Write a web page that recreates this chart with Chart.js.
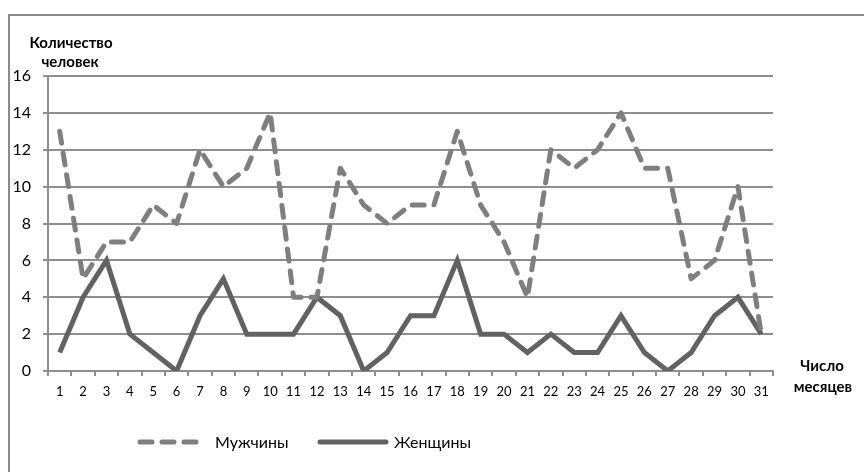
<!DOCTYPE html>
<html>
<head>
<meta charset="utf-8">
<script src="https://cdn.jsdelivr.net/npm/chart.js@4.4.1/dist/chart.umd.min.js"></script>
<style>
  html, body { margin: 0; padding: 0; background: #ffffff; }
  #wrap { width: 864px; height: 472px; }
</style>
</head>
<body>
<div id="wrap"><canvas id="c" width="864" height="472"></canvas></div>
<script>
// Months 1..31
const months = Array.from({ length: 31 }, (_, i) => String(i + 1));

// Number of people per month
const men = [13, 5, 7, 7, 9, 8, 12, 10, 11, 14, 4, 4, 11, 9, 8, 9, 9, 13, 9, 7, 4, 12, 11, 12, 14, 11, 11, 5, 6, 10, 2];
const women = [1, 4, 6, 2, 1, 0, 3, 5, 2, 2, 2, 4, 3, 0, 1, 3, 3, 6, 2, 2, 1, 2, 1, 1, 3, 1, 0, 1, 3, 4, 2];

const seriesNames = ['Мужчины', 'Женщины'];
const yTitle = ['Количество', 'человек'];
const xTitle = ['Число', 'месяцев'];

const FONT = 'Lato, "Open Sans", "DejaVu Sans", sans-serif';
const MEN_COLOR = '#7f7f7f';
const WOMEN_COLOR = '#626262';
const GRID_COLOR = '#8e8e8e';

// Frame, axis titles and legend drawn around the plot
const decorations = {
  id: 'decorations',
  beforeDraw(chart) {
    const ctx = chart.ctx;
    ctx.save();
    ctx.fillStyle = '#ffffff';
    ctx.fillRect(0, 0, chart.width, chart.height);
    ctx.strokeStyle = '#8a8a8a';
    ctx.lineWidth = 2;
    ctx.strokeRect(9, 15, 900, 500);
    ctx.restore();
  },
  afterDraw(chart) {
    const ctx = chart.ctx;
    ctx.save();
    ctx.fillStyle = '#000000';
    ctx.textBaseline = 'middle';
    ctx.textAlign = 'center';
    ctx.font = 'bold 15px ' + FONT;
    ctx.fillText(yTitle[0], 71, 43);
    ctx.fillText(yTitle[1], 70, 62);
    ctx.fillText(xTitle[0], 822, 366);
    ctx.fillText(xTitle[1], 823, 387);

    // legend
    const ly = 442;
    ctx.lineWidth = 5;
    ctx.lineCap = 'round';
    ctx.strokeStyle = MEN_COLOR;
    ctx.setLineDash([12, 10]);
    ctx.beginPath();
    ctx.moveTo(140, ly);
    ctx.lineTo(198, ly);
    ctx.stroke();
    ctx.setLineDash([]);
    ctx.strokeStyle = WOMEN_COLOR;
    ctx.beginPath();
    ctx.moveTo(320, ly);
    ctx.lineTo(386, ly);
    ctx.stroke();

    ctx.font = '16px ' + FONT;
    ctx.fillStyle = '#000000';
    ctx.textAlign = 'left';
    ctx.fillText(seriesNames[0], 215, ly + 1);
    ctx.fillText(seriesNames[1], 394, ly + 1);
    ctx.restore();
  }
};

new Chart(document.getElementById('c'), {
  type: 'line',
  data: {
    labels: months,
    datasets: [
      {
        label: seriesNames[0],
        data: men,
        borderColor: MEN_COLOR,
        borderWidth: 5,
        borderDash: [12, 10],
        borderCapStyle: 'round',
        borderJoinStyle: 'round',
        pointRadius: 0,
        tension: 0,
        fill: false
      },
      {
        label: seriesNames[1],
        data: women,
        borderColor: WOMEN_COLOR,
        borderWidth: 5,
        borderCapStyle: 'butt',
        borderJoinStyle: 'miter',
        pointRadius: 0,
        tension: 0,
        fill: false
      }
    ]
  },
  options: {
    responsive: false,
    animation: false,
    devicePixelRatio: 1,
    layout: { padding: { top: 76, right: 91, left: 0, bottom: 0 } },
    plugins: {
      legend: { display: false },
      tooltip: { enabled: false }
    },
    scales: {
      x: {
        offset: true,
        grid: {
          offset: true,
          drawOnChartArea: false,
          drawTicks: true,
          tickLength: 5,
          color: GRID_COLOR,
          lineWidth: 2
        },
        border: { color: GRID_COLOR, width: 2 },
        ticks: {
          color: '#000000',
          font: { family: FONT, size: 13 },
          padding: 8,
          maxRotation: 0,
          autoSkip: false
        },
        afterFit(scale) { scale.height = 101; }
      },
      y: {
        min: 0,
        max: 16,
        ticks: {
          stepSize: 2,
          color: '#000000',
          font: { family: FONT, size: 16 },
          padding: 12
        },
        grid: {
          color: GRID_COLOR,
          lineWidth: 2,
          tickLength: 5
        },
        border: { color: GRID_COLOR, width: 2 },
        afterFit(scale) { scale.width = 48; }
      }
    }
  },
  plugins: [decorations]
});
</script>
</body>
</html>
